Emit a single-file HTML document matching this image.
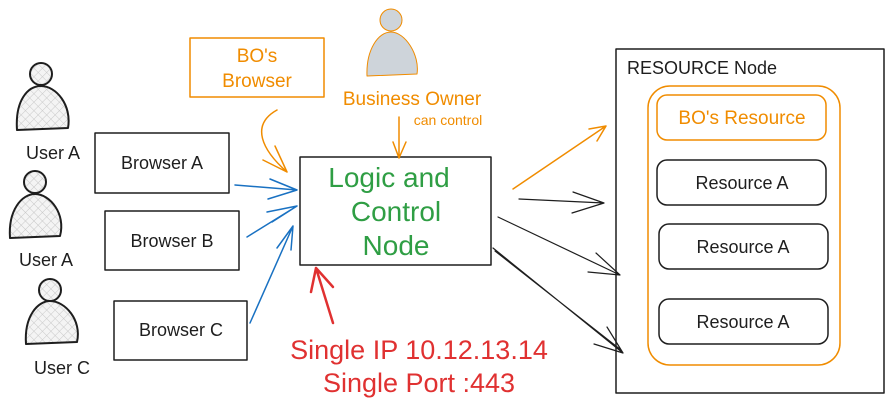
<!DOCTYPE html>
<html><head><meta charset="utf-8"><style>
html,body{margin:0;padding:0;background:#fff;width:894px;height:410px;overflow:hidden}
svg{display:block}
text{font-family:"Liberation Sans",sans-serif}
</style></head><body>
<svg width="894" height="410" viewBox="0 0 894 410" xmlns="http://www.w3.org/2000/svg">
<defs>
<pattern id="h" width="6" height="6" patternUnits="userSpaceOnUse" patternTransform="rotate(45)">
<rect width="6" height="6" fill="#f4f4f4"/><path d="M0 0V6M0 0H6" stroke="#c8c8c8" stroke-width="1"/></pattern>
</defs>
<g fill="none" stroke-linecap="round" stroke-linejoin="round">
<g stroke="#1e1e1e" stroke-width="2" fill="url(#h)">
<circle cx="41" cy="74" r="11"/><path d="M17 130 C15 100 28 86 41 86 C56 86 72 105 68 128 Z"/>
<circle cx="35" cy="182" r="11"/><path d="M10 238 C8 210 22 194 35 194 C50 194 66 214 60 236 Z"/>
<circle cx="50" cy="290" r="11"/><path d="M26 344 C24 316 38 301 50 301 C65 301 82 320 77 342 Z"/>
</g>
<circle cx="391" cy="20" r="11" fill="#ced4da" stroke="#f08c00" stroke-width="1"/>
<path d="M367 76 C366 50 378 32 391 32 C405 32 420 55 417 74 Z" fill="#ced4da" stroke="#f08c00" stroke-width="1"/>
<g stroke="#1e1e1e" stroke-width="1.5">
<rect x="95" y="133" width="134" height="60"/>
<rect x="105" y="211" width="134" height="59"/>
<rect x="114" y="301" width="133" height="59"/>
<rect x="300" y="157" width="191" height="108"/>
<rect x="616" y="49" width="268" height="344"/>
<rect x="657" y="160" width="169" height="45" rx="10"/>
<rect x="659" y="224" width="169" height="45" rx="10"/>
<rect x="659" y="299" width="169" height="45" rx="10"/>
</g>
<rect x="190" y="38" width="134" height="59" stroke="#f08c00" stroke-width="1.5"/>
<rect x="648" y="86" width="192" height="279" rx="22" stroke="#f08c00" stroke-width="1.5"/>
<rect x="657" y="95" width="169" height="45" rx="10" stroke="#f08c00" stroke-width="1.5"/>
<g stroke="#1971c2" stroke-width="1.5">
<path d="M235 185 L297 190 M270 179 L297 190 L268 199"/>
<path d="M247 237 L297 206 M267 212 L297 206 L272 222"/>
<path d="M250 323 L293 226 M291 250 L293 226 L277 248"/>
</g>
<g stroke="#f08c00" stroke-width="1.5">
<path d="M277 110 C250 125 262 150 287 172 M263 160 L287 172 L275 146"/>
<path d="M399 117 L399 158 M393 142 L399 158 L406 142"/>
<path d="M513 189 L606 126 M589 129 L606 126 L597 141"/>
</g>
<g stroke="#1e1e1e" stroke-width="1.2">
<path d="M519 199 L604 203 M573 192 L604 203 L572 213"/>
<path d="M498 217 L620 275 M596 253 L620 275 L588 272"/>
<path d="M493 248 L623 353 M607 327 L623 353 L594 344 M495 251 L621 350"/>
</g>
<path d="M333 323 L316 268 M311 292 L316 268 L333 287" stroke="#e03131" stroke-width="2.5"/>
</g>
<g font-size="18" fill="#1e1e1e" text-anchor="middle">
<text x="162" y="169">Browser A</text>
<text x="172" y="247">Browser B</text>
<text x="181" y="336">Browser C</text>
<text x="53" y="159">User A</text>
<text x="46" y="266">User A</text>
<text x="62" y="374">User C</text>
<text x="742" y="189">Resource A</text>
<text x="743" y="253">Resource A</text>
<text x="743" y="328">Resource A</text>
<text x="702" y="74">RESOURCE Node</text>
</g>
<g fill="#f08c00" text-anchor="middle">
<text x="257" y="62" font-size="19">BO's</text>
<text x="257" y="87" font-size="19">Browser</text>
<text x="412" y="105" font-size="19">Business Owner</text>
<text x="448" y="125" font-size="14">can control</text>
<text x="742" y="124" font-size="19">BO's Resource</text>
</g>
<g fill="#2f9e44" text-anchor="middle" font-size="28">
<text x="389" y="187">Logic and</text>
<text x="396" y="221">Control</text>
<text x="396" y="255">Node</text>
</g>
<g fill="#e03131" text-anchor="middle" font-size="27">
<text x="419" y="359">Single IP 10.12.13.14</text>
<text x="419" y="392">Single Port :443</text>
</g>
</svg>
</body></html>
